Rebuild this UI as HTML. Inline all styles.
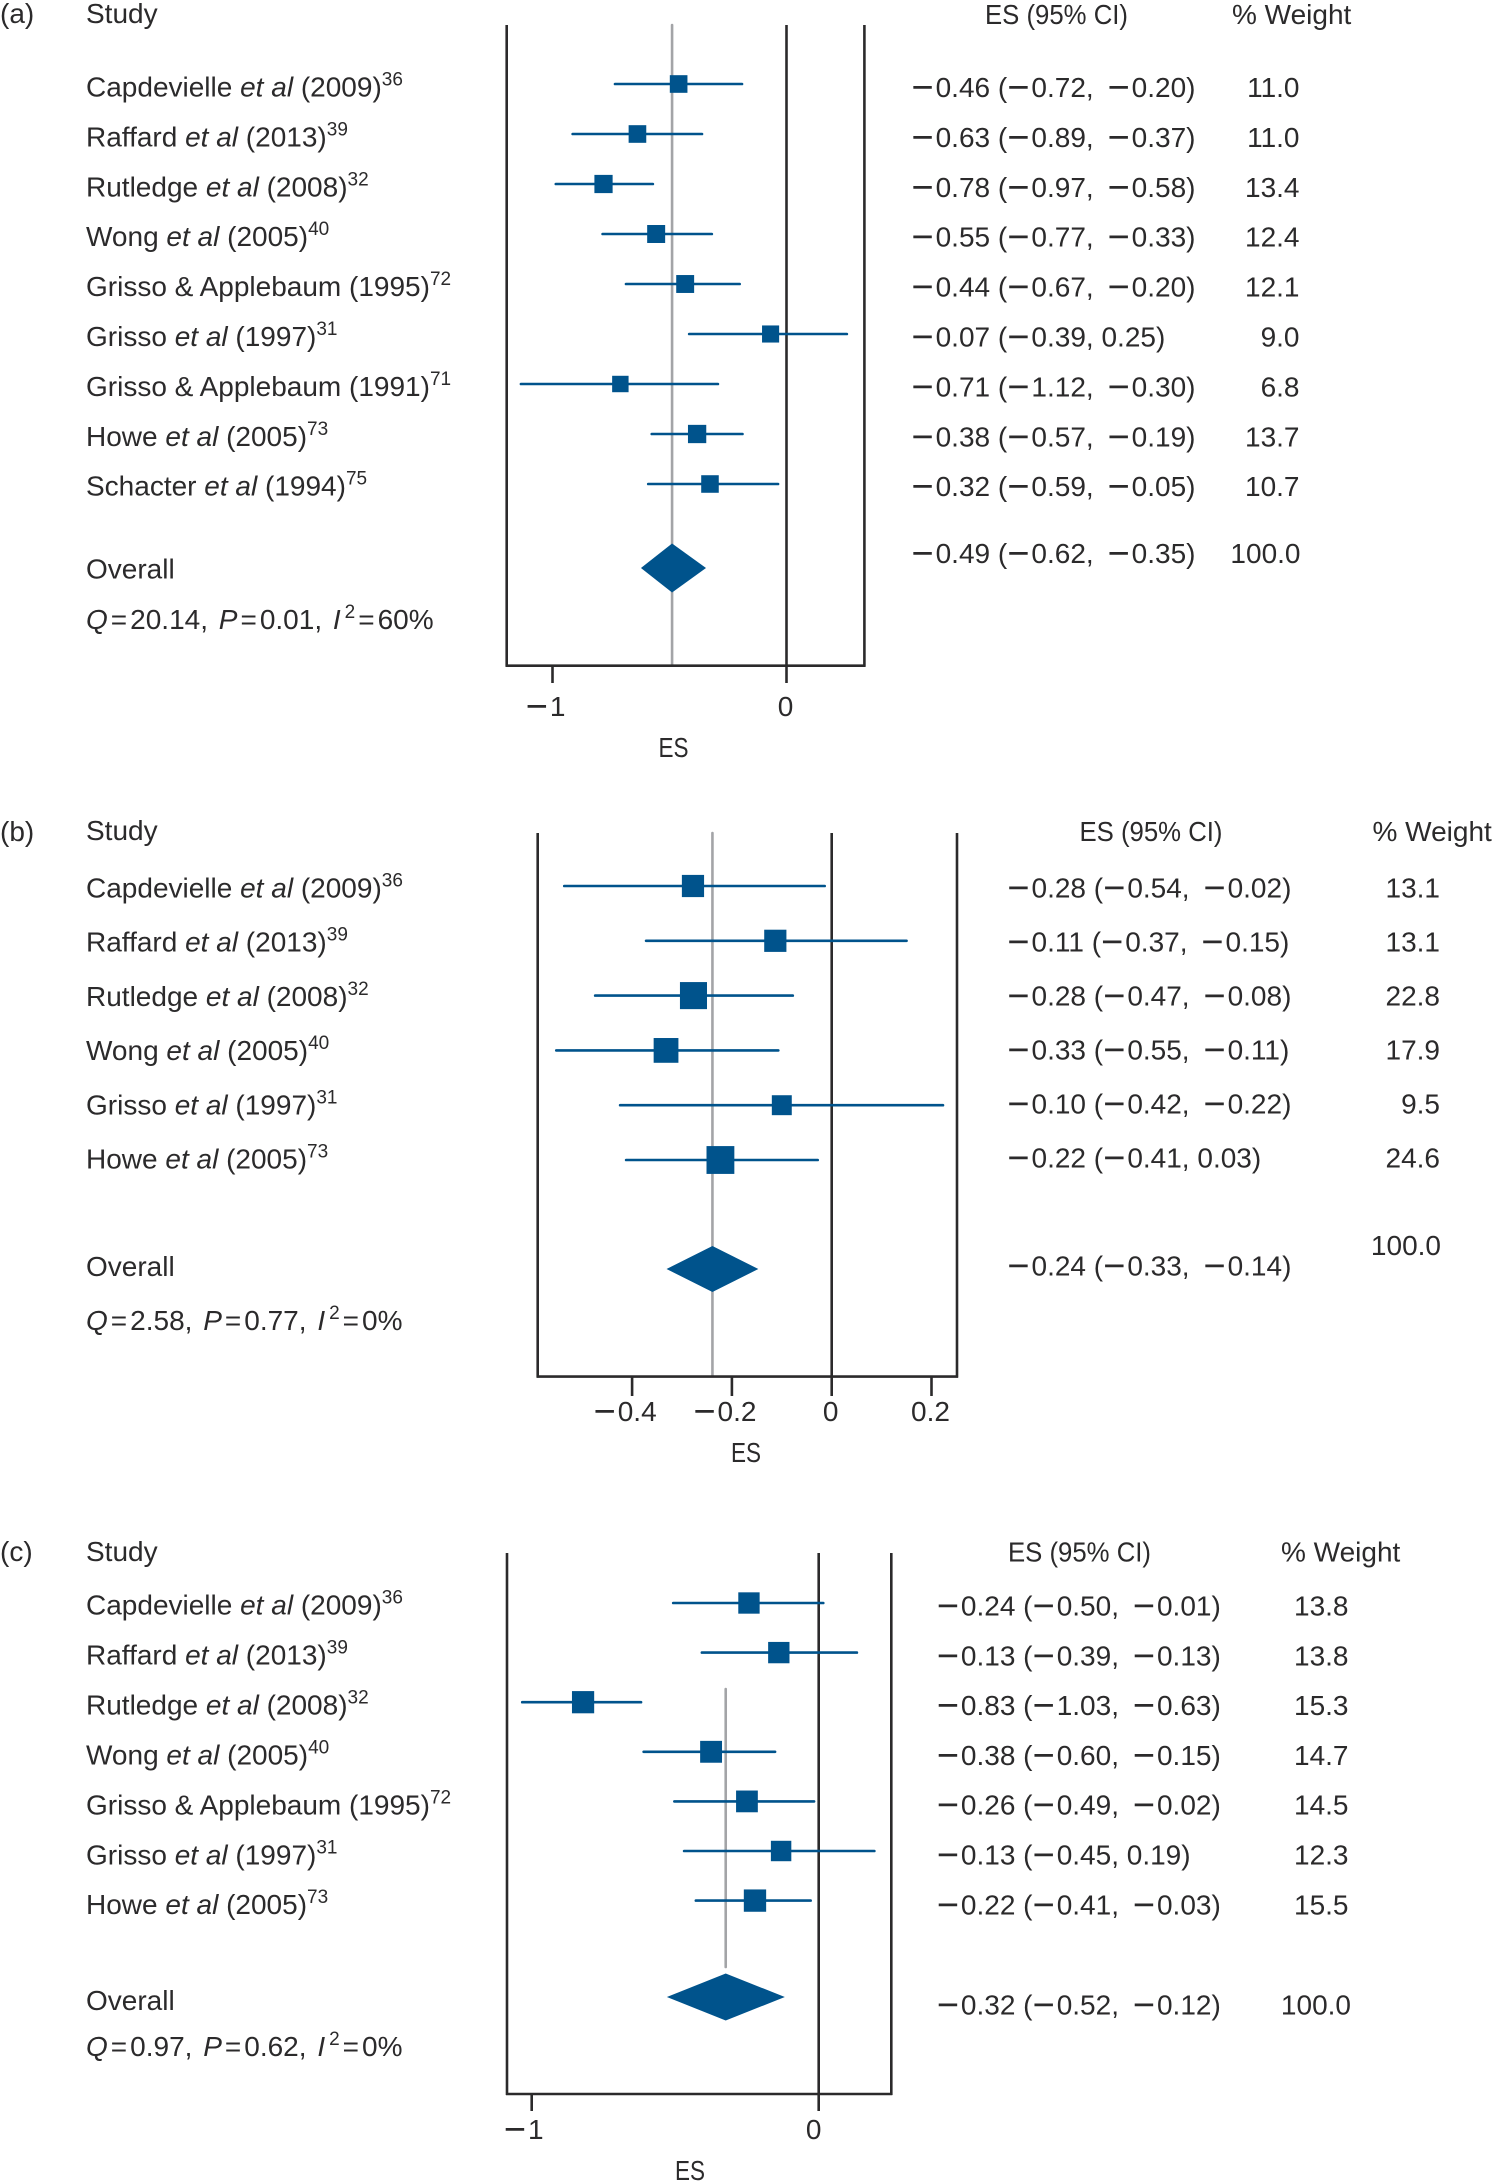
<!DOCTYPE html>
<html lang="en">
<head>
<meta charset="utf-8">
<title>Forest plots of effect sizes</title>
<style>
  html, body { margin: 0; padding: 0; background: #fff; }
  svg { display: block; }
  text { font-family: "Liberation Sans", sans-serif; font-size: 28px; fill: #2b2a2b; white-space: pre; }
</style>
</head>
<body>
<svg id="chart" xmlns="http://www.w3.org/2000/svg" width="1492" height="2182" viewBox="0 0 1492 2182">
  <rect x="0" y="0" width="1492" height="2182" fill="#fff"/>

  <g>
    <text x="0" y="23">(a)</text>
    <text x="86" y="23">Study</text>
    <text x="985" y="24" textLength="143" lengthAdjust="spacingAndGlyphs">ES (95% CI)</text>
    <text x="1232" y="24">% Weight</text>
    <text x="86" y="578.5">Overall</text>
    <text x="86" y="629"><tspan font-style="italic">Q</tspan><tspan dx="3">=</tspan><tspan dx="3">20.14,</tspan><tspan dx="3"> </tspan><tspan font-style="italic">P</tspan><tspan dx="3">=</tspan><tspan dx="3">0.01,</tspan><tspan dx="3"> </tspan><tspan font-style="italic">I</tspan><tspan dx="4" dy="-11" font-size="19">2</tspan><tspan dx="3" dy="11">=</tspan><tspan dx="3">60%</tspan></text>
    <text x="658.5" y="757" textLength="30" lengthAdjust="spacingAndGlyphs">ES</text>
  </g>

  <g>
    <text x="0" y="841">(b)</text>
    <text x="86" y="840">Study</text>
    <text x="1079.5" y="841" textLength="143" lengthAdjust="spacingAndGlyphs">ES (95% CI)</text>
    <text x="1372.5" y="841">% Weight</text>
    <text x="86" y="1276">Overall</text>
    <text x="86" y="1330"><tspan font-style="italic">Q</tspan><tspan dx="3">=</tspan><tspan dx="3">2.58,</tspan><tspan dx="3"> </tspan><tspan font-style="italic">P</tspan><tspan dx="3">=</tspan><tspan dx="3">0.77,</tspan><tspan dx="3"> </tspan><tspan font-style="italic">I</tspan><tspan dx="4" dy="-11" font-size="19">2</tspan><tspan dx="3" dy="11">=</tspan><tspan dx="3">0%</tspan></text>
    <text x="731" y="1462" textLength="30" lengthAdjust="spacingAndGlyphs">ES</text>
  </g>

  <g>
    <text x="0" y="1561">(c)</text>
    <text x="86" y="1561">Study</text>
    <text x="1008" y="1561.5" textLength="143" lengthAdjust="spacingAndGlyphs">ES (95% CI)</text>
    <text x="1281" y="1561.5">% Weight</text>
    <text x="86" y="2010">Overall</text>
    <text x="86" y="2056"><tspan font-style="italic">Q</tspan><tspan dx="3">=</tspan><tspan dx="3">0.97,</tspan><tspan dx="3"> </tspan><tspan font-style="italic">P</tspan><tspan dx="3">=</tspan><tspan dx="3">0.62,</tspan><tspan dx="3"> </tspan><tspan font-style="italic">I</tspan><tspan dx="4" dy="-11" font-size="19">2</tspan><tspan dx="3" dy="11">=</tspan><tspan dx="3">0%</tspan></text>
    <text x="675" y="2180" textLength="30" lengthAdjust="spacingAndGlyphs">ES</text>
  </g>
</svg>

<script>
/* ---------- Panel (a) data ---------- */
const studiesA = ["Capdevielle et al (2009)", "Raffard et al (2013)", "Rutledge et al (2008)", "Wong et al (2005)", "Grisso & Applebaum (1995)", "Grisso et al (1997)", "Grisso & Applebaum (1991)", "Howe et al (2005)", "Schacter et al (1994)"];
const refsA = ["36", "39", "32", "40", "72", "31", "71", "73", "75"];
const esA = [-0.461, -0.637, -0.782, -0.557, -0.433, -0.068, -0.71, -0.382, -0.327];
const loA = [-0.733, -0.914, -0.986, -0.786, -0.686, -0.416, -1.135, -0.576, -0.591];
const hiA = [-0.19, -0.361, -0.571, -0.319, -0.2, 0.258, -0.293, -0.188, -0.036];
const weightsA = [11.0, 11.0, 13.4, 12.4, 12.1, 9.0, 6.8, 13.7, 10.7];
const ciLabelsA = ["−0.46 (−0.72, −0.20)", "−0.63 (−0.89, −0.37)", "−0.78 (−0.97, −0.58)", "−0.55 (−0.77, −0.33)", "−0.44 (−0.67, −0.20)", "−0.07 (−0.39, 0.25)", "−0.71 (−1.12, −0.30)", "−0.38 (−0.57, −0.19)", "−0.32 (−0.59, −0.05)"];
const overallA = [-0.622, -0.489, -0.344];
const overallLabelA = "−0.49 (−0.62, −0.35)";
const ticksA = [-1, 0];
const tickLabelsA = ["−1", "0"];

/* ---------- Panel (b) data ---------- */
const studiesB = ["Capdevielle et al (2009)", "Raffard et al (2013)", "Rutledge et al (2008)", "Wong et al (2005)", "Grisso et al (1997)", "Howe et al (2005)"];
const refsB = ["36", "39", "32", "40", "31", "73"];
const esB = [-0.278, -0.113, -0.277, -0.332, -0.1, -0.223];
const loB = [-0.536, -0.372, -0.474, -0.552, -0.424, -0.412];
const hiB = [-0.014, 0.15, -0.078, -0.107, 0.223, -0.028];
const weightsB = [13.1, 13.1, 22.8, 17.9, 9.5, 24.6];
const ciLabelsB = ["−0.28 (−0.54, −0.02)", "−0.11 (−0.37, −0.15)", "−0.28 (−0.47, −0.08)", "−0.33 (−0.55, −0.11)", "−0.10 (−0.42, −0.22)", "−0.22 (−0.41, 0.03)"];
const overallB = [-0.331, -0.239, -0.147];
const overallLabelB = "−0.24 (−0.33, −0.14)";
const ticksB = [-0.4, -0.2, 0, 0.2];
const tickLabelsB = ["−0.4", "−0.2", "0", "0.2"];

/* ---------- Panel (c) data ---------- */
const studiesC = ["Capdevielle et al (2009)", "Raffard et al (2013)", "Rutledge et al (2008)", "Wong et al (2005)", "Grisso & Applebaum (1995)", "Grisso et al (1997)", "Howe et al (2005)"];
const refsC = ["36", "39", "32", "40", "72", "31", "73"];
const esC = [-0.243, -0.139, -0.821, -0.375, -0.25, -0.131, -0.222];
const loC = [-0.507, -0.407, -1.033, -0.61, -0.503, -0.469, -0.428];
const hiC = [0.016, 0.133, -0.619, -0.152, -0.016, 0.194, -0.028];
const weightsC = [13.8, 13.8, 15.3, 14.7, 14.5, 12.3, 15.5];
const ciLabelsC = ["−0.24 (−0.50, −0.01)", "−0.13 (−0.39, −0.13)", "−0.83 (−1.03, −0.63)", "−0.38 (−0.60, −0.15)", "−0.26 (−0.49, −0.02)", "−0.13 (−0.45, 0.19)", "−0.22 (−0.41, −0.03)"];
const overallC = [-0.529, -0.324, -0.118];
const overallLabelC = "−0.32 (−0.52, −0.12)";
const ticksC = [-1, 0];
const tickLabelsC = ["−1", "0"];

/* ---------- Drawing ---------- */
const SVG_NS = "http://www.w3.org/2000/svg";
const BLUE = "#00538c";
const AXIS = "#2b2a2b";
const GREY = "#a3a4a7";
const STROKE = 2.6;
const root = document.getElementById("chart");

function make(tag, parent, attrs) {
  const el = document.createElementNS(SVG_NS, tag);
  for (const k in attrs) el.setAttribute(k, attrs[k]);
  parent.appendChild(el);
  return el;
}

function addStudyText(el, name, ref) {
  const m = name.match(/^(.*?)(et al)(.*)$/);
  if (m) {
    make("tspan", el, {}).textContent = m[1];
    make("tspan", el, { "font-style": "italic" }).textContent = m[2];
    make("tspan", el, {}).textContent = m[3];
  } else {
    make("tspan", el, {}).textContent = name;
  }
  make("tspan", el, { dy: -11, "font-size": 19 }).textContent = ref;
}

/* The printed minus sign is longer than the font's own, so it is set larger
   and lowered back onto the text's math axis. */
function addSpacedText(el, str) {
  const parts = str.split("−");
  if (parts[0]) make("tspan", el, {}).textContent = parts[0];
  for (let i = 1; i < parts.length; i++) {
    const after = i > 1 && /, $/.test(parts[i - 1]);
    const minusAttrs = { "font-size": 38, dy: 3 };
    if (after) minusAttrs.dx = 6;
    make("tspan", el, minusAttrs).textContent = "−";
    make("tspan", el, { dx: 2, dy: -3 }).textContent = parts[i];
  }
}

function drawPanel(c) {
  const g = make("g", root, {});
  
  
  const x = v => c.zero + c.unit * v;
  const rowY = i => c.rowY0 + c.rowStep * i;

  const ref = make("line", g, { x1: x(c.overall[1]), x2: x(c.overall[1]), y1: c.greyTop, y2: c.greyBottom, stroke: GREY, "stroke-width": STROKE, "stroke-linecap": "round" });
  
  

  const leftAxis = make("line", g, { x1: c.left, x2: c.left, y1: c.top, y2: c.bottom + 1, stroke: AXIS, "stroke-width": STROKE });
  
  

  const rightAxis = make("line", g, { x1: c.right, x2: c.right, y1: c.top, y2: c.bottom + 1, stroke: AXIS, "stroke-width": STROKE });
  
  

  const baseLine = make("line", g, { x1: c.left - 1, x2: c.right + 1, y1: c.bottom, y2: c.bottom, stroke: AXIS, "stroke-width": STROKE });
  
  

  const zeroLine = make("line", g, { x1: x(0), x2: x(0), y1: c.top, y2: c.bottom, stroke: AXIS, "stroke-width": STROKE });
  
  

  c.ticks.forEach((t, i) => {
    const tick = make("line", g, { x1: x(t), x2: x(t), y1: c.bottom, y2: c.tickEnd, stroke: AXIS, "stroke-width": STROKE });
    
    

    const dx = c.tickDx + (t < 0 ? c.tickNegDx : 0);
    const label = make("text", g, { x: x(t) + dx, y: c.tickLabelY, "text-anchor": "middle" });
    
    
    addSpacedText(label, c.tickLabels[i]);
  });

  c.studies.forEach((name, i) => {
    const nameText = make("text", g, { x: 86, y: c.nameY0 + c.nameStep * i });
    
    
    addStudyText(nameText, name, c.refs[i]);

    const ciLine = make("line", g, { x1: x(c.lo[i]), x2: x(c.hi[i]), y1: rowY(i), y2: rowY(i), stroke: BLUE, "stroke-width": STROKE, "stroke-linecap": "round" });
    
    

    const size = c.sizeA + c.sizeB * Math.sqrt(c.weights[i]);
    const marker = make("rect", g, { x: x(c.es[i]) - size / 2, y: rowY(i) - size / 2, width: size, height: size, fill: BLUE });
    
    

    const ciText = make("text", g, { x: c.valueX, y: c.valueY0 + c.valueStep * i });
    
    
    addSpacedText(ciText, c.ciLabels[i]);

    const wText = make("text", g, { x: c.weightEnd, y: c.valueY0 + c.valueStep * i, "text-anchor": "end" });
    
    
    wText.textContent = c.weights[i].toFixed(1);
  });

  const pts = [
    [x(c.overall[0]), c.diamondY],
    [x(c.overall[1]), c.diamondY - c.diamondH],
    [x(c.overall[2]), c.diamondY],
    [x(c.overall[1]), c.diamondY + c.diamondH]
  ].map(p => p.join(",")).join(" ");
  const diamond = make("polygon", g, { points: pts, fill: BLUE });
  
  

  const overallText = make("text", g, { x: c.valueX, y: c.overallY });
  
  
  addSpacedText(overallText, c.overallLabel);

  const overallWeight = make("text", g, { x: c.overallWeightEnd, y: c.overallWeightY, "text-anchor": "end" });
  
  
  overallWeight.textContent = "100.0";
}

drawPanel({
  id: "panel-a", studies: studiesA, refs: refsA, es: esA, lo: loA, hi: hiA, weights: weightsA,
  ciLabels: ciLabelsA, overall: overallA, overallLabel: overallLabelA, ticks: ticksA, tickLabels: tickLabelsA,
  left: 506.7, right: 864.4, zero: 786.5, unit: 234, top: 25, bottom: 665.7, tickEnd: 683, tickLabelY: 716,
  greyTop: 25, greyBottom: 665, tickDx: -1, tickNegDx: -6,
  rowY0: 84, rowStep: 50, diamondY: 568, diamondH: 24.5, sizeA: 12, sizeB: 1.7,
  nameY0: 96.5, nameStep: 49.9, valueX: 911.4, valueY0: 97, valueStep: 49.9,
  weightEnd: 1299.5, overallY: 563, overallWeightEnd: 1300.5, overallWeightY: 563
});

drawPanel({
  id: "panel-b", studies: studiesB, refs: refsB, es: esB, lo: loB, hi: hiB, weights: weightsB,
  ciLabels: ciLabelsB, overall: overallB, overallLabel: overallLabelB, ticks: ticksB, tickLabels: tickLabelsB,
  left: 537.7, right: 957, zero: 831.7, unit: 499, top: 833, bottom: 1376.6, tickEnd: 1396, tickLabelY: 1421,
  greyTop: 833, greyBottom: 1376, tickDx: -1, tickNegDx: -6,
  rowY0: 886, rowStep: 54.8, diamondY: 1269, diamondH: 23, sizeA: 7, sizeB: 4.2,
  nameY0: 897.5, nameStep: 54.2, valueX: 1007.3, valueY0: 897.5, valueStep: 54,
  weightEnd: 1440, overallY: 1275.5, overallWeightEnd: 1441, overallWeightY: 1255
});

drawPanel({
  id: "panel-c", studies: studiesC, refs: refsC, es: esC, lo: loC, hi: hiC, weights: weightsC,
  ciLabels: ciLabelsC, overall: overallC, overallLabel: overallLabelC, ticks: ticksC, tickLabels: tickLabelsC,
  left: 507, right: 891.3, zero: 818.7, unit: 287, top: 1553, bottom: 2094, tickEnd: 2111, tickLabelY: 2139,
  greyTop: 1689, greyBottom: 1967, tickDx: -5, tickNegDx: -3,
  rowY0: 1603, rowStep: 49.6, diamondY: 1997, diamondH: 23.5, sizeA: 5, sizeB: 4.4,
  nameY0: 1614.5, nameStep: 49.95, valueX: 936.7, valueY0: 1615.5, valueStep: 49.8,
  weightEnd: 1348.5, overallY: 2014.3, overallWeightEnd: 1351, overallWeightY: 2014.3
});
</script>
</body>
</html>
